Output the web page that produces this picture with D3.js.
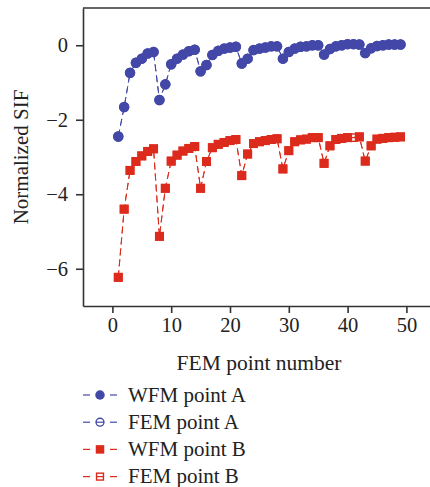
<!DOCTYPE html>
<html>
<head>
<meta charset="utf-8">
<script src="https://cdn.jsdelivr.net/npm/d3@7"></script>
<style>
  body { margin: 0; background: #fff; }
  svg { display: block; font-family: "Liberation Serif", "DejaVu Serif", serif; }
</style>
</head>
<body>
<div id="chart"></div>
<script>
const width = 430;
const height = 487;

// FEM point numbers
const pointNumbers = [1, 2, 3, 4, 5, 6, 7, 8, 9, 10, 11, 12, 13, 14, 15, 16, 17, 18, 19, 20, 21, 22, 23, 24, 25,
  26, 27, 28, 29, 30, 31, 32, 33, 34, 35, 36, 37, 38, 39, 40, 41, 42, 43, 44, 45, 46, 47, 48, 49];

// normalized SIF
const wfmA = [-2.45, -1.66, -0.74, -0.47, -0.36, -0.22, -0.18,
  -1.47, -1.05, -0.51, -0.36, -0.25, -0.16, -0.12,
  -0.70, -0.53, -0.26, -0.15, -0.09, -0.06, -0.04,
  -0.49, -0.36, -0.13, -0.09, -0.06, -0.03, -0.03,
  -0.36, -0.18, -0.09, -0.04, -0.03, 0.0, 0.0,
  -0.25, -0.10, -0.03, 0.0, 0.03, 0.03, 0.02,
  -0.21, -0.08, -0.02, 0.0, 0.02, 0.02, 0.02];
const femA = [-2.45, -1.66, -0.74, -0.47, -0.36, -0.22, -0.18,
  -1.47, -1.05, -0.51, -0.36, -0.25, -0.16, -0.12,
  -0.70, -0.53, -0.26, -0.15, -0.09, -0.06, -0.04,
  -0.49, -0.36, -0.13, -0.09, -0.06, -0.03, -0.03,
  -0.36, -0.18, -0.09, -0.04, -0.03, 0.0, 0.0,
  -0.25, -0.10, -0.03, 0.0, 0.03, 0.03, 0.02,
  -0.21, -0.08, -0.02, 0.0, 0.02, 0.02, 0.02];
const wfmB = [-6.23, -4.40, -3.36, -3.12, -2.97, -2.85, -2.78,
  -5.13, -3.84, -3.11, -2.95, -2.84, -2.77, -2.72,
  -3.84, -3.12, -2.75, -2.66, -2.61, -2.56, -2.53,
  -3.50, -2.92, -2.64, -2.59, -2.56, -2.53, -2.51,
  -3.32, -2.83, -2.59, -2.54, -2.52, -2.48, -2.48,
  -3.17, -2.70, -2.53, -2.50, -2.48, null, -2.46,
  -3.11, -2.70, -2.52, -2.50, -2.48, -2.47, -2.46];
const femB = [-6.23, -4.40, -3.36, -3.12, -2.97, -2.85, -2.78,
  -5.13, -3.84, -3.11, -2.95, -2.84, -2.77, -2.72,
  -3.84, -3.12, -2.75, -2.66, -2.61, -2.56, -2.53,
  -3.50, -2.92, -2.64, -2.59, -2.56, -2.53, -2.51,
  -3.32, -2.83, -2.59, -2.54, -2.52, -2.48, -2.48,
  -3.17, -2.70, -2.53, -2.50, -2.48, -2.48, -2.46,
  -3.11, -2.70, -2.52, -2.50, -2.48, -2.47, -2.46];

const xTicks = [0, 10, 20, 30, 40, 50];
const yTicks = [-6, -4, -2, 0];

const blue = "#4348a8";
const red = "#dc2b1c";
const axisColor = "#333";

// series: name, values, colour, marker kind
const series = [
  { name: "FEM point A", values: femA, color: blue, marker: "circleOpen" },
  { name: "FEM point B", values: femB, color: red, marker: "squareOpen" },
  { name: "WFM point A", values: wfmA, color: blue, marker: "circle" },
  { name: "WFM point B", values: wfmB, color: red, marker: "square" },
];
const legendOrder = ["WFM point A", "FEM point A", "WFM point B", "FEM point B"];

const plotLeft = 83;
const plotTop = 8;
const plotBottom = 306;

const x = d3.scaleLinear().domain([-5, 55]).range([plotLeft, plotLeft + 60 * 5.88]);
const y = d3.scaleLinear().domain([-7, 1]).range([plotBottom, plotTop]);

const svg = d3.select("#chart").append("svg")
  .attr("width", width)
  .attr("height", height);

svg.append("rect").attr("width", width).attr("height", height).attr("fill", "#fff");

// draw one marker centred on (0,0)
function drawMarker(g, kind, color, size) {
  if (kind === "circle") {
    g.append("circle").attr("r", size / 2).attr("fill", color);
  } else if (kind === "square") {
    g.append("rect").attr("x", -size / 2).attr("y", -size / 2)
      .attr("width", size).attr("height", size).attr("fill", color);
  } else if (kind === "circleOpen") {
    const r = size / 2 - 0.8;
    g.append("circle").attr("r", r).attr("fill", "#fff")
      .attr("stroke", color).attr("stroke-width", 1.4);
    g.append("line").attr("x1", -r).attr("x2", r)
      .attr("stroke", color).attr("stroke-width", 1.2);
  } else if (kind === "squareOpen") {
    const h = size / 2 - 0.8;
    g.append("rect").attr("x", -h).attr("y", -h)
      .attr("width", 2 * h).attr("height", 2 * h).attr("fill", "#fff")
      .attr("stroke", color).attr("stroke-width", 1.4);
    g.append("line").attr("x1", -h).attr("x2", h)
      .attr("stroke", color).attr("stroke-width", 1.2);
  }
}

// axes
const xAxis = svg.append("g")
  .attr("transform", `translate(0, ${plotBottom})`)
  .call(d3.axisBottom(x).tickValues(xTicks).tickSizeInner(7).tickSizeOuter(0).tickPadding(4));

const yAxis = svg.append("g")
  .attr("transform", `translate(${plotLeft}, 0)`)
  .call(d3.axisLeft(y).tickValues(yTicks).tickSizeInner(7).tickSizeOuter(0).tickPadding(8));

[xAxis, yAxis].forEach((a) => {
  a.select(".domain").attr("stroke", axisColor).attr("stroke-width", 1.6);
  a.selectAll(".tick line").attr("stroke", axisColor).attr("stroke-width", 1.6);
  a.selectAll(".tick text")
    .attr("fill", "#222")
    .style("font-family", "'Liberation Serif', serif")
    .style("font-size", "20.5px");
});

// top border of the frame
svg.append("line")
  .attr("x1", plotLeft).attr("x2", width)
  .attr("y1", plotTop).attr("y2", plotTop)
  .attr("stroke", axisColor).attr("stroke-width", 1.6);

// axis titles
svg.append("text")
  .attr("x", 259).attr("y", 370)
  .attr("text-anchor", "middle")
  .attr("font-size", 21.5)
  .attr("fill", "#222")
  .text("FEM point number");

svg.append("text")
  .attr("transform", `translate(28, ${(plotTop + plotBottom) / 2}) rotate(-90)`)
  .attr("text-anchor", "middle")
  .attr("font-size", 21)
  .attr("fill", "#222")
  .text("Normalized SIF");

// series lines and markers
const line = d3.line().x((d) => x(d.x)).y((d) => y(d.y));

series.forEach((s) => {
  const pts = pointNumbers.map((p, i) => ({ x: p, y: s.values[i] }))
    .filter((d) => d.y !== null);

  svg.append("path")
    .datum(pts)
    .attr("d", line)
    .attr("fill", "none")
    .attr("stroke", s.color)
    .attr("stroke-width", 1)
    .attr("stroke-dasharray", "7,4");

  const markers = svg.append("g").selectAll("g")
    .data(pts)
    .join("g")
    .attr("transform", (d) => `translate(${x(d.x)}, ${y(d.y)})`);
  markers.each(function () {
    drawMarker(d3.select(this), s.marker, s.color, s.marker.startsWith("circle") ? 10.5 : 9);
  });
});

// legend
const legend = svg.append("g");
legendOrder.forEach((name, i) => {
  const s = series.find((d) => d.name === name);
  const cy = 395 + i * 27.2;
  const row = legend.append("g").attr("transform", `translate(0, ${cy})`);
  row.append("line").attr("x1", 83).attr("x2", 90)
    .attr("stroke", s.color).attr("stroke-width", 1.2);
  row.append("line").attr("x1", 110).attr("x2", 117)
    .attr("stroke", s.color).attr("stroke-width", 1.2);
  const m = row.append("g").attr("transform", "translate(100, 0)");
  drawMarker(m, s.marker, s.color, s.marker.startsWith("circle") ? 9.5 : 8.5);
  row.append("text")
    .attr("x", 128).attr("y", 6.5)
    .attr("font-size", 21)
    .attr("fill", "#222")
    .text(name);
});
</script>
</body>
</html>
